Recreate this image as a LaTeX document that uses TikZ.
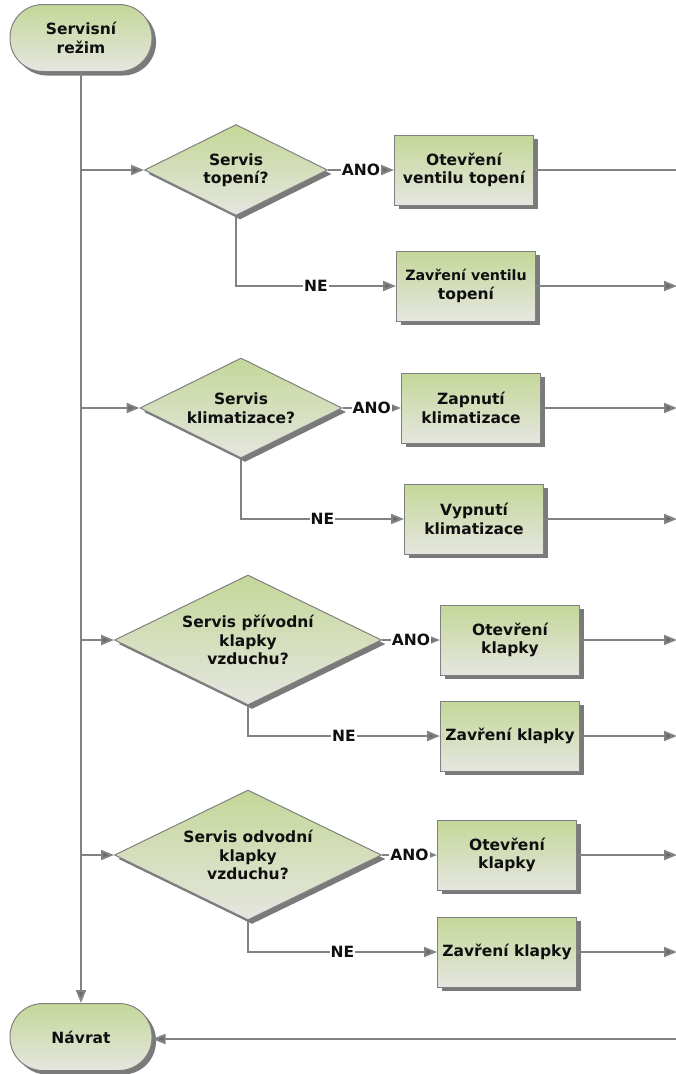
\documentclass[tikz,border=0pt]{standalone}
\usepackage{fontspec}
\setmainfont{DejaVu Sans}
\usetikzlibrary{shapes.geometric,shadows,arrows.meta}

\definecolor{boxgreen}{RGB}{196,215,152}
\definecolor{boxgrey}{RGB}{229,230,224}
\definecolor{edgegrey}{RGB}{128,128,128}
\definecolor{linegrey}{RGB}{130,130,130}
\definecolor{headgrey}{RGB}{105,105,105}
\definecolor{txt}{RGB}{15,15,15}

\tikzset{
  shaded/.style={draw=edgegrey, line width=1pt, top color=boxgreen, bottom color=boxgrey,
    drop shadow={shadow xshift=4pt, shadow yshift=-4pt, opacity=0.65, fill=black!80},
    font=\fontsize{15.5}{18.5}\selectfont\bfseries, text=txt, align=center, inner sep=0pt},
  terminal/.style={shaded, rectangle, rounded corners=33pt, minimum width=142pt, minimum height=67pt},
  decision/.style={shaded, diamond, aspect=2},
  action/.style={shaded, rectangle, minimum width=139pt, minimum height=70pt},
  conn/.style={draw=linegrey, line width=2pt},
  arr/.style={conn, -{Triangle[length=13pt,width=10pt,fill=headgrey]}},
  lab/.style={fill=white, inner sep=1pt, font=\fontsize{15.5}{18.5}\selectfont\bfseries, text=txt}
}

\begin{document}
\begin{tikzpicture}[x=1pt,y=-1pt]
\useasboundingbox (0,0) rectangle (676,1074);

% terminals
\node[terminal] (start) at (81,38) {Servisní\\režim};
\node[terminal] (ret) at (81,1037) {Návrat};

% decisions
\node[decision, minimum width=183pt, minimum height=91pt] (d1) at (236,170) {Servis\\topení?};
\node[decision, minimum width=202pt, minimum height=100pt] (d2) at (241,408) {Servis\\klimatizace?};
\node[decision, minimum width=267pt, minimum height=130pt] (d3) at (248,640) {Servis přívodní\\klapky\\vzduchu?};
\node[decision, minimum width=267pt, minimum height=130pt] (d4) at (248,855) {Servis odvodní\\klapky\\vzduchu?};

% actions
\node[action] (b1) at (464,170) {Otevření\\ventilu topení};
\node[action] (b2) at (466,286) {\fontsize{14.2}{18.5}\selectfont Zavření ventilu\\topení};
\node[action] (b3) at (471,408) {Zapnutí\\klimatizace};
\node[action] (b4) at (474,519) {Vypnutí\\klimatizace};
\node[action] (b5) at (510,640) {Otevření\\klapky};
\node[action] (b6) at (510,736) {Zavření klapky};
\node[action] (b7) at (507,855) {Otevření\\klapky};
\node[action] (b8) at (507,952) {Zavření klapky};

% junctions on the main line and exits on the right edge
\coordinate (j1) at (81,170);
\coordinate (j2) at (81,408);
\coordinate (j3) at (81,640);
\coordinate (j4) at (81,855);
\coordinate (o1) at (677,170);
\coordinate (o2) at (677,286);
\coordinate (o3) at (677,408);
\coordinate (o4) at (677,519);
\coordinate (o5) at (677,640);
\coordinate (o6) at (677,736);
\coordinate (o7) at (677,855);
\coordinate (o8) at (677,952);
\coordinate (rin) at (680,1039);

% main trunk
\draw[arr] (start.south) -- (ret.north);
\foreach \j/\d in {j1/d1, j2/d2, j3/d3, j4/d4}
  \draw[arr] (\j) -- (\d.west);

% yes / no branches
\foreach \d/\y/\n in {d1/b1/b2, d2/b3/b4, d3/b5/b6, d4/b7/b8}{
  \draw[arr] (\d.east) -- node[lab]{ANO} (\y.west);
  \draw[arr] (\d.south) |- node[lab, pos=0.75]{NE} (\n.west);
}

% outputs
\draw[conn] (b1.east) -- (o1);
\foreach \b/\o in {b2/o2, b3/o3, b4/o4, b5/o5, b6/o6, b7/o7, b8/o8}
  \draw[arr] (\b.east) -- (\o);

% return
\draw[arr] (rin) -- (ret.east |- rin);
\end{tikzpicture}
\end{document}
